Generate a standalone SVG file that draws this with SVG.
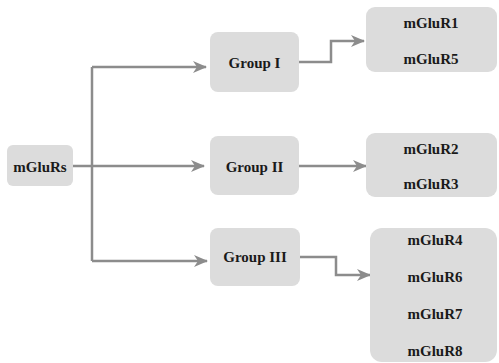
<svg xmlns="http://www.w3.org/2000/svg" width="499" height="363" viewBox="0 0 499 363">
<defs>
<style>
.box{fill:#dcdcdc;}
.t{font-family:"Liberation Serif","Times New Roman","DejaVu Serif",serif;font-weight:bold;font-size:15px;fill:#1a1a1a;text-anchor:middle;}
.c{fill:none;stroke:#8c8c8c;stroke-width:2.5;}
</style>
<marker id="ah" markerUnits="userSpaceOnUse" markerWidth="14" markerHeight="12" refX="13" refY="6" orient="auto" viewBox="0 0 14 12">
<path d="M0,0 L14,6 L0,12 L4,6 z" fill="#8c8c8c"/>
</marker>
</defs>
<rect width="499" height="363" fill="#fff"/>
<g id="connectors">
<line class="c" x1="92" y1="67" x2="92" y2="261"/>
<path class="c" d="M73,166 H204" marker-end="url(#ah)"/>
<path class="c" d="M92,67 H206" marker-end="url(#ah)"/>
<path class="c" d="M92,261 H207" marker-end="url(#ah)"/>
<path class="c" d="M299,62 H331 V41 H364" marker-end="url(#ah)"/>
<path class="c" d="M299,166 H366" marker-end="url(#ah)"/>
<path class="c" d="M300,257 H336 V275 H370" marker-end="url(#ah)"/>
</g>
<g id="mGluRs">
<rect class="box" x="7" y="145" width="66" height="41" rx="6"/>
<text class="t" x="40" y="172">mGluRs</text>
</g>
<g id="group1">
<rect class="box" x="210" y="32" width="89" height="60" rx="8"/>
<text class="t" x="254.5" y="68">Group I</text>
</g>
<g id="group2">
<rect class="box" x="210" y="136" width="89" height="59" rx="8"/>
<text class="t" x="254.5" y="172">Group II</text>
</g>
<g id="group3">
<rect class="box" x="210" y="228" width="90" height="58" rx="8"/>
<text class="t" x="255" y="262">Group III</text>
</g>
<g id="r15">
<rect class="box" x="366" y="7" width="131" height="65" rx="9"/>
<text class="t" x="431" y="28">mGluR1</text>
<text class="t" x="431" y="64">mGluR5</text>
</g>
<g id="r23">
<rect class="box" x="366" y="133" width="131" height="64" rx="9"/>
<text class="t" x="431" y="154">mGluR2</text>
<text class="t" x="431" y="189">mGluR3</text>
</g>
<g id="r4678">
<rect class="box" x="370" y="228" width="127" height="134" rx="12"/>
<text class="t" x="435" y="245">mGluR4</text>
<text class="t" x="435" y="282">mGluR6</text>
<text class="t" x="435" y="319">mGluR7</text>
<text class="t" x="435" y="356">mGluR8</text>
</g>
</svg>
